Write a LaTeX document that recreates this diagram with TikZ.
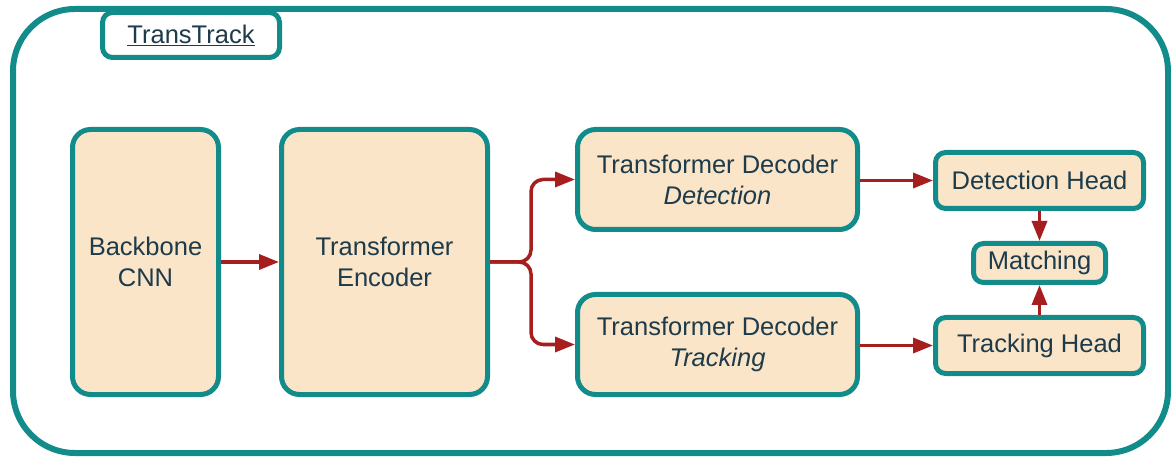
\documentclass[tikz,border=0pt]{standalone}
\usepackage{fontspec}
\setmainfont{Liberation Sans}
\usetikzlibrary{arrows.meta}
\definecolor{tealline}{HTML}{128C8A}
\definecolor{peach}{HTML}{FAE5C8}
\definecolor{inkblue}{HTML}{1D3B4B}
\definecolor{flowred}{HTML}{A61E1E}

\begin{document}
\begin{tikzpicture}[x=1pt,y=-1pt,line cap=round,line join=round,
  block/.style={draw=tealline,fill=peach,line width=5pt,rounded corners=18pt,
    inner sep=0pt,align=center,text=inkblue,
    font=\fontsize{25.5}{31}\selectfont},
  headbox/.style={block,rounded corners=10pt},
  flow/.style={draw=flowred,line width=3.5pt,line cap=butt,
    -{Triangle[length=20pt,width=15pt]}}]
  \useasboundingbox (0,0) rectangle (1171,457);
  \clip (0,0) rectangle (1171,457);
  \draw[tealline,line width=6pt,rounded corners=62pt] (13,9) rectangle (1168,453);
  \node[headbox,fill=white,minimum width=177pt,minimum height=45pt] (title) at (191,35)
    {\underline{TransTrack}};

  \node[block,minimum width=146pt,minimum height=265pt] (bb) at (145.5,262) {Backbone\\CNN};
  \node[block,minimum width=206pt,minimum height=265pt] (enc) at (384.5,262) {Transformer\\Encoder};
  \node[block,minimum width=280pt,minimum height=100pt] (decdet) at (717.5,179.5)
    {Transformer Decoder\\\itshape Detection};
  \node[block,minimum width=280pt,minimum height=100pt] (dectrk) at (717.5,344.5)
    {Transformer Decoder\\\itshape Tracking};
  \node[headbox,minimum width=208pt,minimum height=56pt] (dethead) at (1039.5,180.5) {Detection Head};
  \node[headbox,minimum width=132pt,minimum height=39pt] (match) at (1039.5,263) {Matching};
  \node[headbox,minimum width=208pt,minimum height=56pt] (trkhead) at (1039.5,345.5) {Tracking Head};

  \coordinate (split) at (531,262);
  \draw[flow] (bb) -- (enc);
  \draw[flow,rounded corners=12pt] (enc.east) -- (split) |- (decdet.west);
  \draw[flow,rounded corners=12pt] (enc.east) -- (split) |- (dectrk.west);
  \draw[flow] (decdet.east |- dethead) -- (dethead.west);
  \draw[flow] (dectrk.east |- trkhead) -- (trkhead.west);
  \draw[flow] (dethead) -- (match);
  \draw[flow] (trkhead) -- (match);
\end{tikzpicture}
\end{document}
